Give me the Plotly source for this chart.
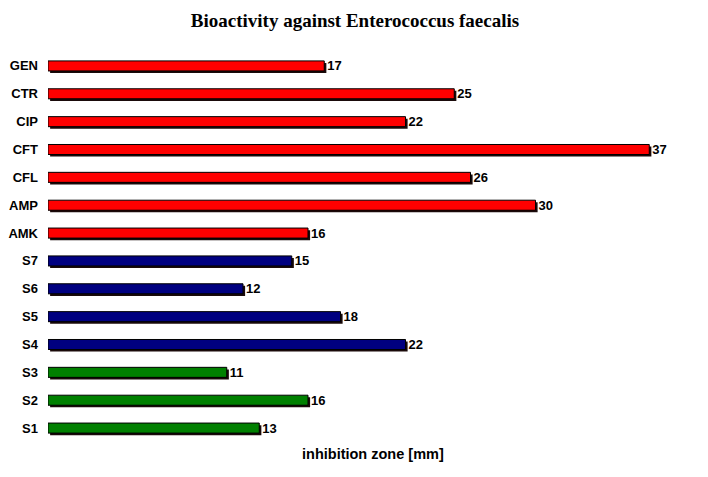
import plotly.graph_objects as go

categories = ["S1", "S2", "S3", "S4", "S5", "S6", "S7", "AMK", "AMP", "CFL", "CFT", "CIP", "CTR", "GEN"]
values = [13, 16, 11, 22, 18, 12, 15, 16, 30, 26, 37, 22, 25, 17]
groups = ["S-green"] * 3 + ["S-blue"] * 4 + ["ref"] * 7
group_colors = {"S-green": "#008000", "S-blue": "#000080", "ref": "#ff0000"}
colors = [group_colors[g] for g in groups]

W = 0.36
fig = go.Figure()
# shadow
fig.add_trace(go.Bar(
    y=categories, x=values, base=[0.13] * len(values), orientation="h",
    width=W, offset=-W / 2 - 0.075,
    marker=dict(color="#1a0a0a", line=dict(width=0)),
    hoverinfo="skip", showlegend=False,
))
fig.add_trace(go.Bar(
    y=categories, x=values, orientation="h",
    width=W, offset=-W / 2,
    marker=dict(color=colors, line=dict(color="#000000", width=1)),
    text=[str(v) for v in values], textposition="outside", constraintext="none",
    textfont=dict(family="Liberation Sans, Arial", size=13, color="#000000", weight="bold"),
    cliponaxis=False, showlegend=False,
))

fig.update_layout(
    width=708, height=477,
    barmode="overlay",
    paper_bgcolor="white", plot_bgcolor="white",
    margin=dict(l=40, r=18, t=44, b=43, autoexpand=False),
    title=dict(text="<b>Bioactivity against Enterococcus faecalis</b>",
               x=(355 - 8) / 708, xanchor="center", y=1 - 12 / 477, yanchor="middle",
               font=dict(family="Liberation Serif, Times New Roman", size=19, color="#000000")),
    xaxis=dict(range=[0, 40], visible=False, fixedrange=True),
    yaxis=dict(categoryorder="array", categoryarray=categories, range=[-0.5, 13.5],
               showgrid=False, zeroline=False, showline=False, ticks="",
               ticklabelstandoff=9, automargin=False,
               tickfont=dict(family="Liberation Sans, Arial", size=13, color="#000000", weight="bold")),
    annotations=[dict(text="<b>inhibition zone [mm]</b>", xref="paper", yref="paper",
                      x=(373 - 48) / 650, y=-12 / 390, xanchor="center", yanchor="middle",
                      showarrow=False,
                      font=dict(family="Liberation Sans, Arial", size=14.5, color="#000000"))],
)

fig.write_html("out.html")
